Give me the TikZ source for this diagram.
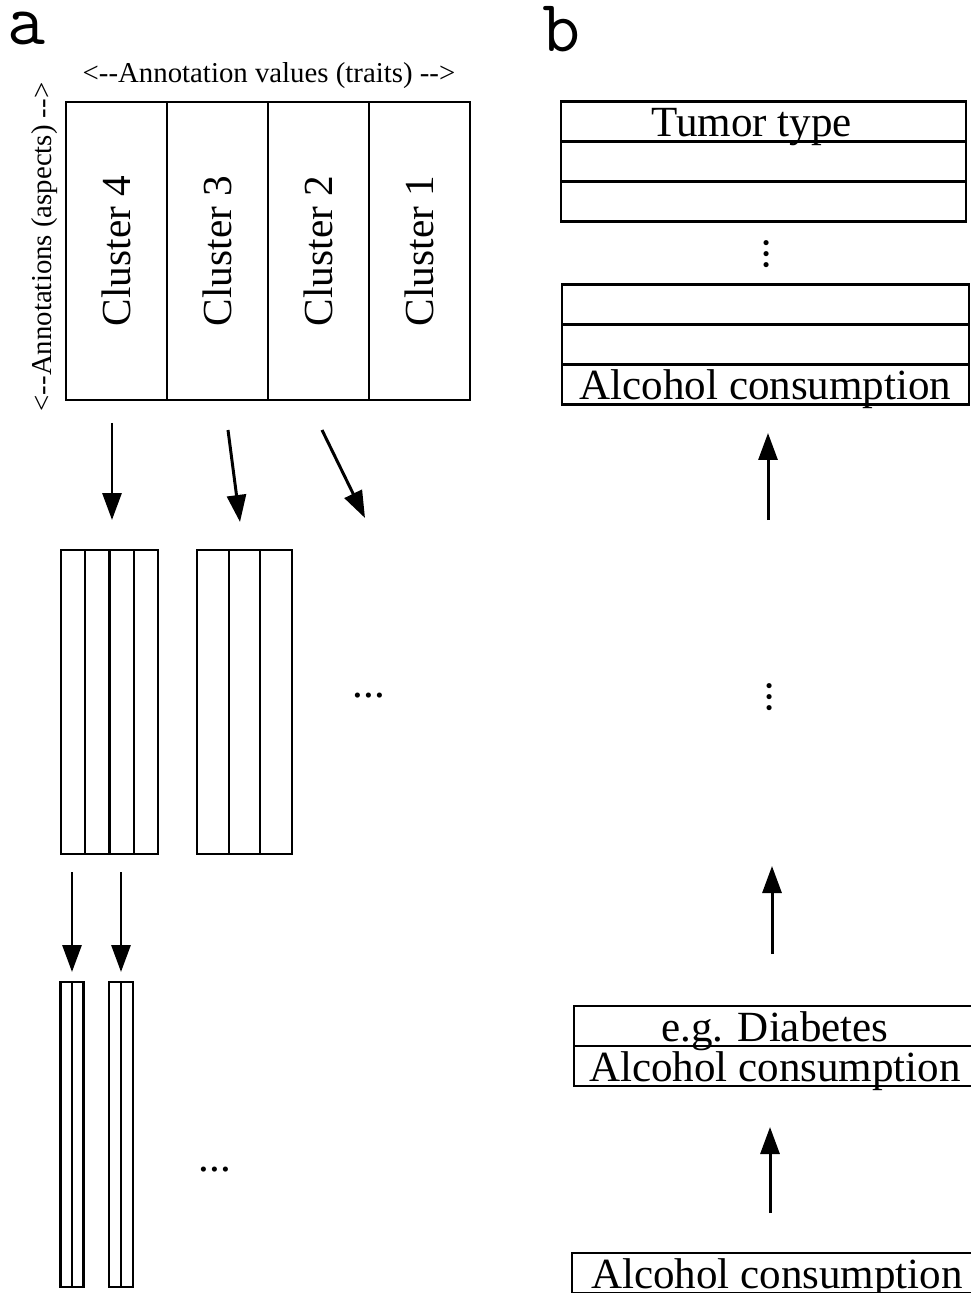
\documentclass[tikz,border=0pt]{standalone}
\usepackage{fontspec}
\newfontfamily\figserif{Liberation Serif}
\usetikzlibrary{arrows.meta}
\usetikzlibrary{matrix, positioning}

\tikzset{
    cellgrid/.style={matrix of nodes, nodes in empty cells, column sep=-\pgflinewidth, row sep=-\pgflinewidth, nodes={draw, inner sep=0pt, anchor=center}},
    arr/.style={-{Triangle[length=0.54cm, width=0.38cm]}, line width=1.7pt},
    bigtext/.style={font=\figserif\fontsize{24.5}{29}\selectfont},
    smalltext/.style={font=\figserif\fontsize{16.4}{19}\selectfont},
    panel/.style={font=\ttfamily\fontsize{42}{50}\selectfont, inner sep=0pt, anchor=base west}
}

\begin{document}
\begin{tikzpicture}[x=0.02cm, y=-0.02cm, line width=1.3pt]
    \useasboundingbox (0,0) rectangle (970,1293);

    % Panel letters
    \node[panel] (pa) at (6,45) {a};
    \node[panel] (pb) at (541,52) {b};

    % Cluster table
    \matrix[cellgrid, nodes={minimum width=2.02cm, minimum height=5.96cm, font=\figserif\fontsize{23.5}{28}\selectfont}] (clu) at (268,251) {
        \rotatebox{90}{Cluster 4} & \rotatebox{90}{Cluster 3} & \rotatebox{90}{Cluster 2} & \rotatebox{90}{Cluster 1} \\
    };
    \node[smalltext, anchor=base] (traits) at (269,83) {<--Annotation values (traits) -->};
    \node[smalltext, rotate=90, anchor=base] (aspects) at (51,247) {<--Annotations (aspects) -->};

    % Split clusters
    \matrix[cellgrid, nodes={minimum width=0.485cm, minimum height=6.08cm}] (m1) at (109.5,702) {
        & & & \\
    };
    \matrix[cellgrid, nodes={minimum width=0.633cm, minimum height=6.08cm}] (m2) at (244.5,702) {
        & & \\
    };
    \node[bigtext] (hd1) at (369,696) {...};

    % Single traits
    \matrix[cellgrid, nodes={minimum width=0.23cm, minimum height=6.1cm}] (t1) at (72,1134.5) {
        & \\
    };
    \matrix[cellgrid, nodes={minimum width=0.24cm, minimum height=6.1cm}] (t2) at (121,1134.5) {
        & \\
    };
    \node[bigtext] (hd2) at (215,1170) {...};

    % Down arrows
    \coordinate (d1a) at (112,423);  \coordinate (d1b) at (112,520);
    \coordinate (d2a) at (228,430);  \coordinate (d2b) at (240,522);
    \coordinate (d3a) at (322,430);  \coordinate (d3b) at (365,518);
    \coordinate (d4a) at (72,872);   \coordinate (d4b) at (72,972);
    \coordinate (d5a) at (121,872);  \coordinate (d5b) at (121,972);
    \draw[arr] (d1a) -- (d1b);
    \draw[arr] (d2a) -- (d2b);
    \draw[arr] (d3a) -- (d3b);
    \draw[arr] (d4a) -- (d4b);
    \draw[arr] (d5a) -- (d5b);

    % Stacks (right)
    \matrix[cellgrid, nodes={minimum width=8.1cm, minimum height=0.8cm, text height=0.6cm, text depth=0pt, bigtext}] (tumor) at (763.5,161.5) {
        Tumor type\hspace*{0.48cm} \\
        \\
        \\
    };
    \node[bigtext, rotate=90] (vd1) at (767,254) {...};
    \matrix[cellgrid, nodes={minimum width=8.14cm, minimum height=0.8cm, text height=0.6cm, text depth=0pt, bigtext}] (alc) at (765.5,344.5) {
        \\
        \\
        Alcohol consumption \\
    };
    \node[bigtext, rotate=90] (vd2) at (770,697) {...};
    \matrix[cellgrid, nodes={minimum width=8.04cm, minimum height=0.8cm, text height=0.6cm, text depth=0pt, bigtext}] (diab) at (775,1046) {
        e.g. Diabetes \\
        Alcohol consumption \\
    };
    \node[draw, bigtext, inner sep=0pt, minimum width=8.2cm, minimum height=0.8cm, text height=0.6cm, text depth=0pt] (base) at (777,1273) {Alcohol consumption};

    % Up arrows
    \coordinate (u1a) at (768,520);   \coordinate (u1b) at (768,433);
    \coordinate (u2a) at (772,954);   \coordinate (u2b) at (772,866);
    \coordinate (u3a) at (770,1213);  \coordinate (u3b) at (770,1127);
    \draw[arr] (u1a) -- (u1b);
    \draw[arr] (u2a) -- (u2b);
    \draw[arr] (u3a) -- (u3b);
\end{tikzpicture}
\end{document}
